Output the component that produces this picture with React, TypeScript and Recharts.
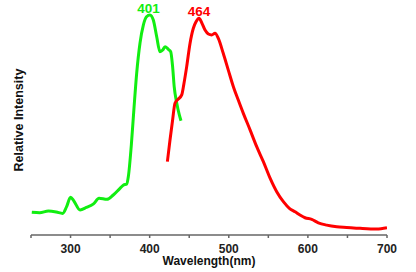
import React from 'react';
import { LineChart, Line, XAxis, YAxis, ReferenceDot, Label } from 'recharts';

const greenX = [251, 261, 272, 282, 290, 295, 300, 304, 312, 320, 329, 336, 346, 354, 362.5, 367, 371, 373, 377, 380, 383.6, 387.8, 392, 396, 400.4, 404.6, 408.9, 413, 416.5, 419.4, 423.6, 426.6, 429, 431, 434.2, 437.5, 439.6];
const greenY = [9.9, 9.7, 10.4, 10.0, 9.4, 12.3, 16.4, 14.9, 10.9, 12.0, 13.5, 16.0, 15.5, 17.4, 20.3, 21.7, 22.2, 25.3, 39.9, 54.3, 70.4, 83.5, 91.3, 94.9, 95.7, 93.5, 86.2, 79.7, 80.4, 81.9, 80.7, 79.7, 73.2, 64.5, 57.4, 52.2, 49.7];

const redX = [422.4, 425.7, 429, 432, 436.2, 440.5, 443.4, 446.8, 451, 455.2, 458.6, 462.4, 465.8, 470, 474.2, 478.4, 482.6, 486.8, 493, 499.4, 505.8, 512, 518.4, 526.9, 535.3, 543.7, 552.2, 560.6, 569, 576.6, 583.8, 590, 596.4, 604.8, 613.2, 623.8, 636.5, 649, 666, 687, 700];
const redY = [31.9, 41.3, 50, 57.3, 59.1, 60.9, 66, 73.2, 83.3, 89.9, 92.7, 94.2, 92.3, 89.1, 87.4, 87, 87.7, 85.5, 79, 71.7, 64.5, 58.7, 52.9, 45.7, 38.4, 31.9, 24.7, 18.8, 14.5, 11.6, 10.1, 8.7, 7.5, 6.8, 5.3, 4.3, 3.6, 3.3, 2.9, 2.6, 3.2];

const xTicks = [250, 300, 350, 400, 450, 500, 550, 600, 650, 700];
const peakLabels = ['401', '464'];
const peakX = [398.5, 462.4];
const peakY = [95.7, 94.2];
const peakColors = ['#11ee11', '#ff0000'];

const greenData = greenX.map((x, i) => ({ x, y: greenY[i] }));
const redData = redX.map((x, i) => ({ x, y: redY[i] }));

const FONT = '"Liberation Sans", Arial, sans-serif';

export default function App() {
  return (
    <div style={{ position: 'absolute', left: 0, top: 0, width: 416, height: 272, background: '#fff' }}>
      <LineChart width={416} height={272} margin={{ top: 5, right: 29, left: 31, bottom: 0 }}>
        <XAxis
          type="number"
          dataKey="x"
          domain={[250, 700]}
          ticks={xTicks}
          allowDataOverflow
          tickFormatter={(v: number) => (v % 100 === 0 ? String(v) : '')}
          tickSize={3}
          tickMargin={6}
          height={37}
          axisLine={{ stroke: '#666', strokeWidth: 1.5 }}
          tickLine={{ stroke: '#666', strokeWidth: 1.5 }}
          tick={{ fontFamily: FONT, fontWeight: 'bold', fontSize: 12, fill: '#222' }}
          interval={0}
        >
          <Label
            value="Wavelength(nm)"
            position="insideBottom"
            offset={7}
            style={{ fontFamily: FONT, fontWeight: 'bold', fontSize: 12, fill: '#111' }}
          />
        </XAxis>
        <YAxis
          type="number"
          domain={[0, 100]}
          width={0}
          tick={false}
          tickLine={false}
          axisLine={{ stroke: '#666', strokeWidth: 1.5 }}
        />
        <Line
          data={greenData}
          dataKey="y"
          type="monotone"
          stroke="#11ee11"
          strokeWidth={3}
          dot={false}
          isAnimationActive={false}
        />
        <Line
          data={redData}
          dataKey="y"
          type="monotone"
          stroke="#ff0000"
          strokeWidth={3}
          dot={false}
          isAnimationActive={false}
        />
        {peakLabels.map((t, i) => (
          <ReferenceDot
            key={t}
            x={peakX[i]}
            y={peakY[i]}
            r={0}
            stroke="none"
            fill="none"
            label={{
              value: t,
              position: 'top',
              offset: 2,
              style: { fontFamily: FONT, fontWeight: 'bold', fontSize: 13.5, fill: peakColors[i] },
            }}
          />
        ))}
      </LineChart>
      <div
        style={{
          position: 'absolute',
          left: 19,
          top: 120,
          width: 160,
          textAlign: 'center',
          transform: 'translate(-50%, -50%) rotate(-90deg)',
          fontFamily: FONT,
          fontWeight: 'bold',
          fontSize: 12.5,
          lineHeight: '14px',
          color: '#111',
          whiteSpace: 'nowrap',
        }}
      >
        Relative Intensity
      </div>
    </div>
  );
}
